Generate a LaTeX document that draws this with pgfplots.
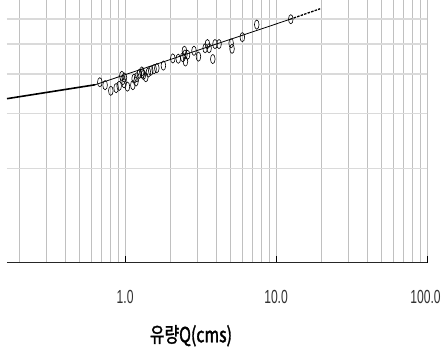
\documentclass[border=0pt]{standalone}
\usepackage{pgfplots}
\pgfplotsset{compat=1.18}
\usepackage{fontspec}
\setmainfont{Liberation Sans}
\newfontfamily\narrowfont[FakeStretch=0.64]{Liberation Sans}
\newfontfamily\krfont[FakeStretch=0.76,FakeBold=1.5]{Noto Sans CJK KR}
\definecolor{vgrid}{RGB}{192,192,192}
\definecolor{hgrid}{RGB}{218,218,218}
\definecolor{ticklab}{RGB}{50,50,50}
\pgfdeclareplotmark{vell}{%
  \pgfpathellipse{\pgfpointorigin}{\pgfpoint{2.3bp}{0pt}}{\pgfpoint{0pt}{4.6bp}}%
  \pgfusepathqstroke}
\begin{document}
\begin{tikzpicture}
\useasboundingbox (-7bp,-88.3bp) rectangle (434bp,262.7bp);
\begin{axis}[
  at={(0,0)}, anchor=south west,
  scale only axis, width=420bp, height=262.7bp,
  xmode=log, ymode=log,
  xmin=0.165, xmax=100, ymin=1, ymax=6.9,
  xtick={1,10,100}, xticklabels={1.0,10.0,\hspace*{-3bp}100.0},
  minor xtick={0.2,0.3,0.4,0.5,0.6,0.7,0.8,0.9,2,3,4,5,6,7,8,9,20,30,40,50,60,70,80,90},
  ytick={2,3,4,5,6}, yticklabels={},
  minor ytick={},
  separate axis lines,
  axis x line*=bottom,
  x axis line style={black!85, line width=1.3bp},
  y axis line style={draw=none},
  xmajorgrids, xminorgrids, ymajorgrids,
  major x grid style={vgrid, line width=0.8bp},
  minor x grid style={vgrid, line width=0.8bp},
  major y grid style={hgrid, line width=1.4bp},
  tick align=inside,
  major tick length=7bp, minor tick length=0pt,
  major tick style={black, line width=1bp},
  ytick style={draw=none},
  xticklabel style={font=\narrowfont\fontsize{19}{19}\selectfont, text=ticklab, yshift=-24bp},
  /pgf/number format/assume math mode=true,
  xlabel={유량Q(cms)},
  xlabel style={font=\krfont\fontsize{21}{21}\selectfont, at={(axis description cs:0.438,0)}, anchor=center, yshift=-73bp},
  clip=false,
]
\addplot[only marks, mark=vell, mark options={line width=0.6bp, black}] coordinates {
(0.680,3.77) (0.737,3.69) (0.804,3.54) (0.872,3.61) (0.913,3.67)
(0.951,3.95) (0.966,3.83) (0.985,3.74) (1.036,3.65) (1.125,3.69)
(1.147,3.87) (1.195,3.91) (1.243,4.01) (1.290,4.08) (1.322,3.98)
(1.371,3.91) (1.427,4.05) (1.479,4.10) (1.556,4.15) (1.622,4.18)
(1.793,4.26) (2.07,4.49) (2.25,4.48) (2.41,4.53) (2.47,4.75)
(2.51,4.39) (2.59,4.61) (2.86,4.75) (3.06,4.55) (3.39,4.84)
(3.51,4.99) (3.60,4.84) (3.81,4.47) (3.94,4.99) (4.19,4.99)
(5.04,5.02) (5.11,4.82) (5.98,5.25) (7.45,5.76) (12.52,5.99)
(2.49,4.62) (1.18,3.79) (0.99,3.90) (1.30,4.02)
};
\addplot[black, line width=1.6bp] coordinates {(0.165,3.34) (0.633,3.70)};
\addplot[black, line width=0.8bp] coordinates {(0.633,3.70) (12.4,5.99)};
\addplot[black, line width=1.3bp, dash pattern=on 2.5bp off 1.2bp] coordinates {(12.4,5.99) (19.6,6.47)};
\end{axis}
\end{tikzpicture}
\end{document}
